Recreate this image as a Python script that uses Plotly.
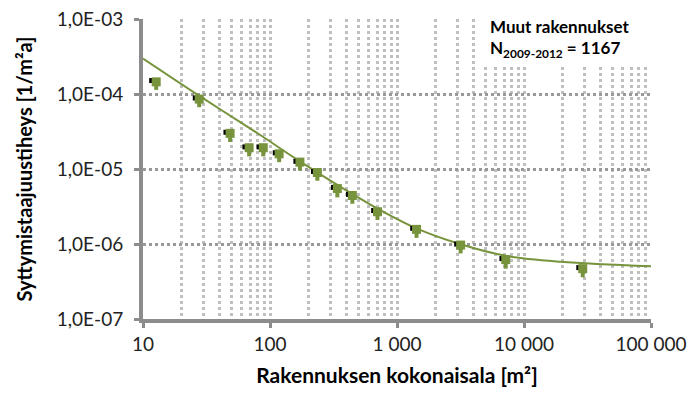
import plotly.graph_objects as go

# havaitut syttymistaajuustiheydet (vihreät pisteet)
ala = [12.7, 27.7, 48.5, 68.5, 88.5, 118, 172, 236, 339, 445, 702, 1425, 3170, 7180, 29000]
tiheys = [1.46e-4, 8.6e-5, 3.0e-5, 1.93e-5, 1.93e-5, 1.6e-5, 1.24e-5, 9.0e-6, 5.5e-6, 4.45e-6, 2.7e-6, 1.57e-6, 9.7e-7, 6.2e-7, 4.7e-7]
virhe_yla = [1.5e-5, 9e-6, 3e-6, 2e-6, 2e-6, 1.6e-6, 1.2e-6, 9e-7, 5e-7, 4e-7, 2.5e-7, 1.5e-7, 9e-8, 6e-8, 4e-8]
virhe_ala = [3.2e-5, 1.9e-5, 7e-6, 4.5e-6, 4.5e-6, 3.6e-6, 2.8e-6, 2e-6, 1.3e-6, 1e-6, 6e-7, 3.6e-7, 2.2e-7, 1.5e-7, 1.1e-7]

# mustat pisteet (hieman vasemmalla)
ala_m = [11.7, 25.8, 45.0, 63.5, 82.0, 110, 160, 220, 316, 415, 655, 1330, 2950, 6700, 27000]
tiheys_m = [1.52e-4, 8.9e-5, 3.1e-5, 1.98e-5, 1.98e-5, 1.65e-5, 1.27e-5, 9.3e-6, 5.7e-6, 4.6e-6, 2.8e-6, 1.62e-6, 1.0e-6, 6.4e-7, 4.85e-7]

# sovite (luettu kuvasta)
sovite_x = [10, 28.2, 83.8, 173, 618, 1425, 3170, 7180, 19500, 100000]
sovite_y = [2.99e-4, 9.33e-5, 2.85e-5, 1.26e-5, 3.37e-6, 1.62e-6, 9.93e-7, 6.98e-7, 5.81e-7, 5.06e-7]

x_tick = [10, 100, 1000, 10000, 100000]
x_text = ["10", "100", "1 000", "10 000", "100 000"]
y_tick = [1e-7, 1e-6, 1e-5, 1e-4, 1e-3]
y_text = ["1,0E-07", "1,0E-06", "1,0E-05", "1,0E-04", "1,0E-03"]

vihrea = "#77933C"
harmaa = "#8c8c8c"
fontti = "Lato, Open Sans, sans-serif"

fig = go.Figure()
fig.add_trace(go.Scatter(x=sovite_x, y=sovite_y, mode="lines",
                         line=dict(color=vihrea, width=2, shape="spline", smoothing=1.0),
                         hoverinfo="skip", showlegend=False))
fig.add_trace(go.Scatter(x=ala_m, y=tiheys_m, mode="markers",
                         marker=dict(symbol="square", color="black", size=5),
                         showlegend=False))
fig.add_trace(go.Scatter(x=ala, y=tiheys, mode="markers",
                         marker=dict(symbol="square", color=vihrea, size=9),
                         error_y=dict(type="data", array=virhe_yla, arrayminus=virhe_ala,
                                      color=vihrea, thickness=4, width=0),
                         showlegend=False))

fig.add_shape(type="rect", xref="paper", yref="paper", x0=0.665, x1=1.03, y0=0.85, y1=1.06,
              fillcolor="white", line=dict(width=0), layer="above")
fig.add_annotation(xref="paper", yref="paper", x=0.68, y=0.975, xanchor="left", yanchor="middle",
                   text="<b>Muut rakennukset</b>", showarrow=False,
                   font=dict(family=fontti, size=17, color="black"))
fig.add_annotation(xref="paper", yref="paper", x=0.68, y=0.9, xanchor="left", yanchor="middle",
                   text="<b>N<sub>2009-2012</sub> = 1167</b>", showarrow=False,
                   font=dict(family=fontti, size=17, color="black"))

fig.update_xaxes(type="log", range=[1, 5], tickvals=x_tick, ticktext=x_text, automargin=False,
                 showline=True, linecolor=harmaa, linewidth=4,
                 ticks="outside", ticklen=5, tickwidth=3, tickcolor=harmaa,
                 showgrid=True, gridcolor="#bfbfbf", gridwidth=3, griddash="dot",
                 minor=dict(dtick="D1", showgrid=True, gridcolor="#bfbfbf", gridwidth=3, griddash="dot"),
                 zeroline=False, tickfont=dict(family=fontti, size=19, color="#222"),
                 ticklabeloverflow="allow",
                 title=dict(text="<b>Rakennuksen kokonaisala [m²]</b>", standoff=16,
                            font=dict(family=fontti, size=21, color="black")))
fig.update_yaxes(type="log", range=[-7, -2.997], tickvals=y_tick, ticktext=y_text, automargin=False,
                 showline=True, linecolor=harmaa, linewidth=4,
                 ticks="outside", ticklen=5, tickwidth=3, tickcolor=harmaa, ticklabelstandoff=7,
                 showgrid=True, gridcolor="#999999", gridwidth=3, griddash="dot",
                 zeroline=False, tickfont=dict(family=fontti, size=19, color="#222"),
                 ticklabeloverflow="allow",
                 title=dict(text="<b>Syttymistaajuustiheys [1/m²a]</b>", standoff=20,
                            font=dict(family=fontti, size=20, color="black")))

# sivun oletusmarginaali (8 px) siirtää kuvaa, joten marginaalit kompensoidaan
fig.update_layout(width=698, height=402, plot_bgcolor="white", paper_bgcolor="white",
                  margin=dict(l=135, r=55, t=11, b=91))

fig.write_html("out.html")
